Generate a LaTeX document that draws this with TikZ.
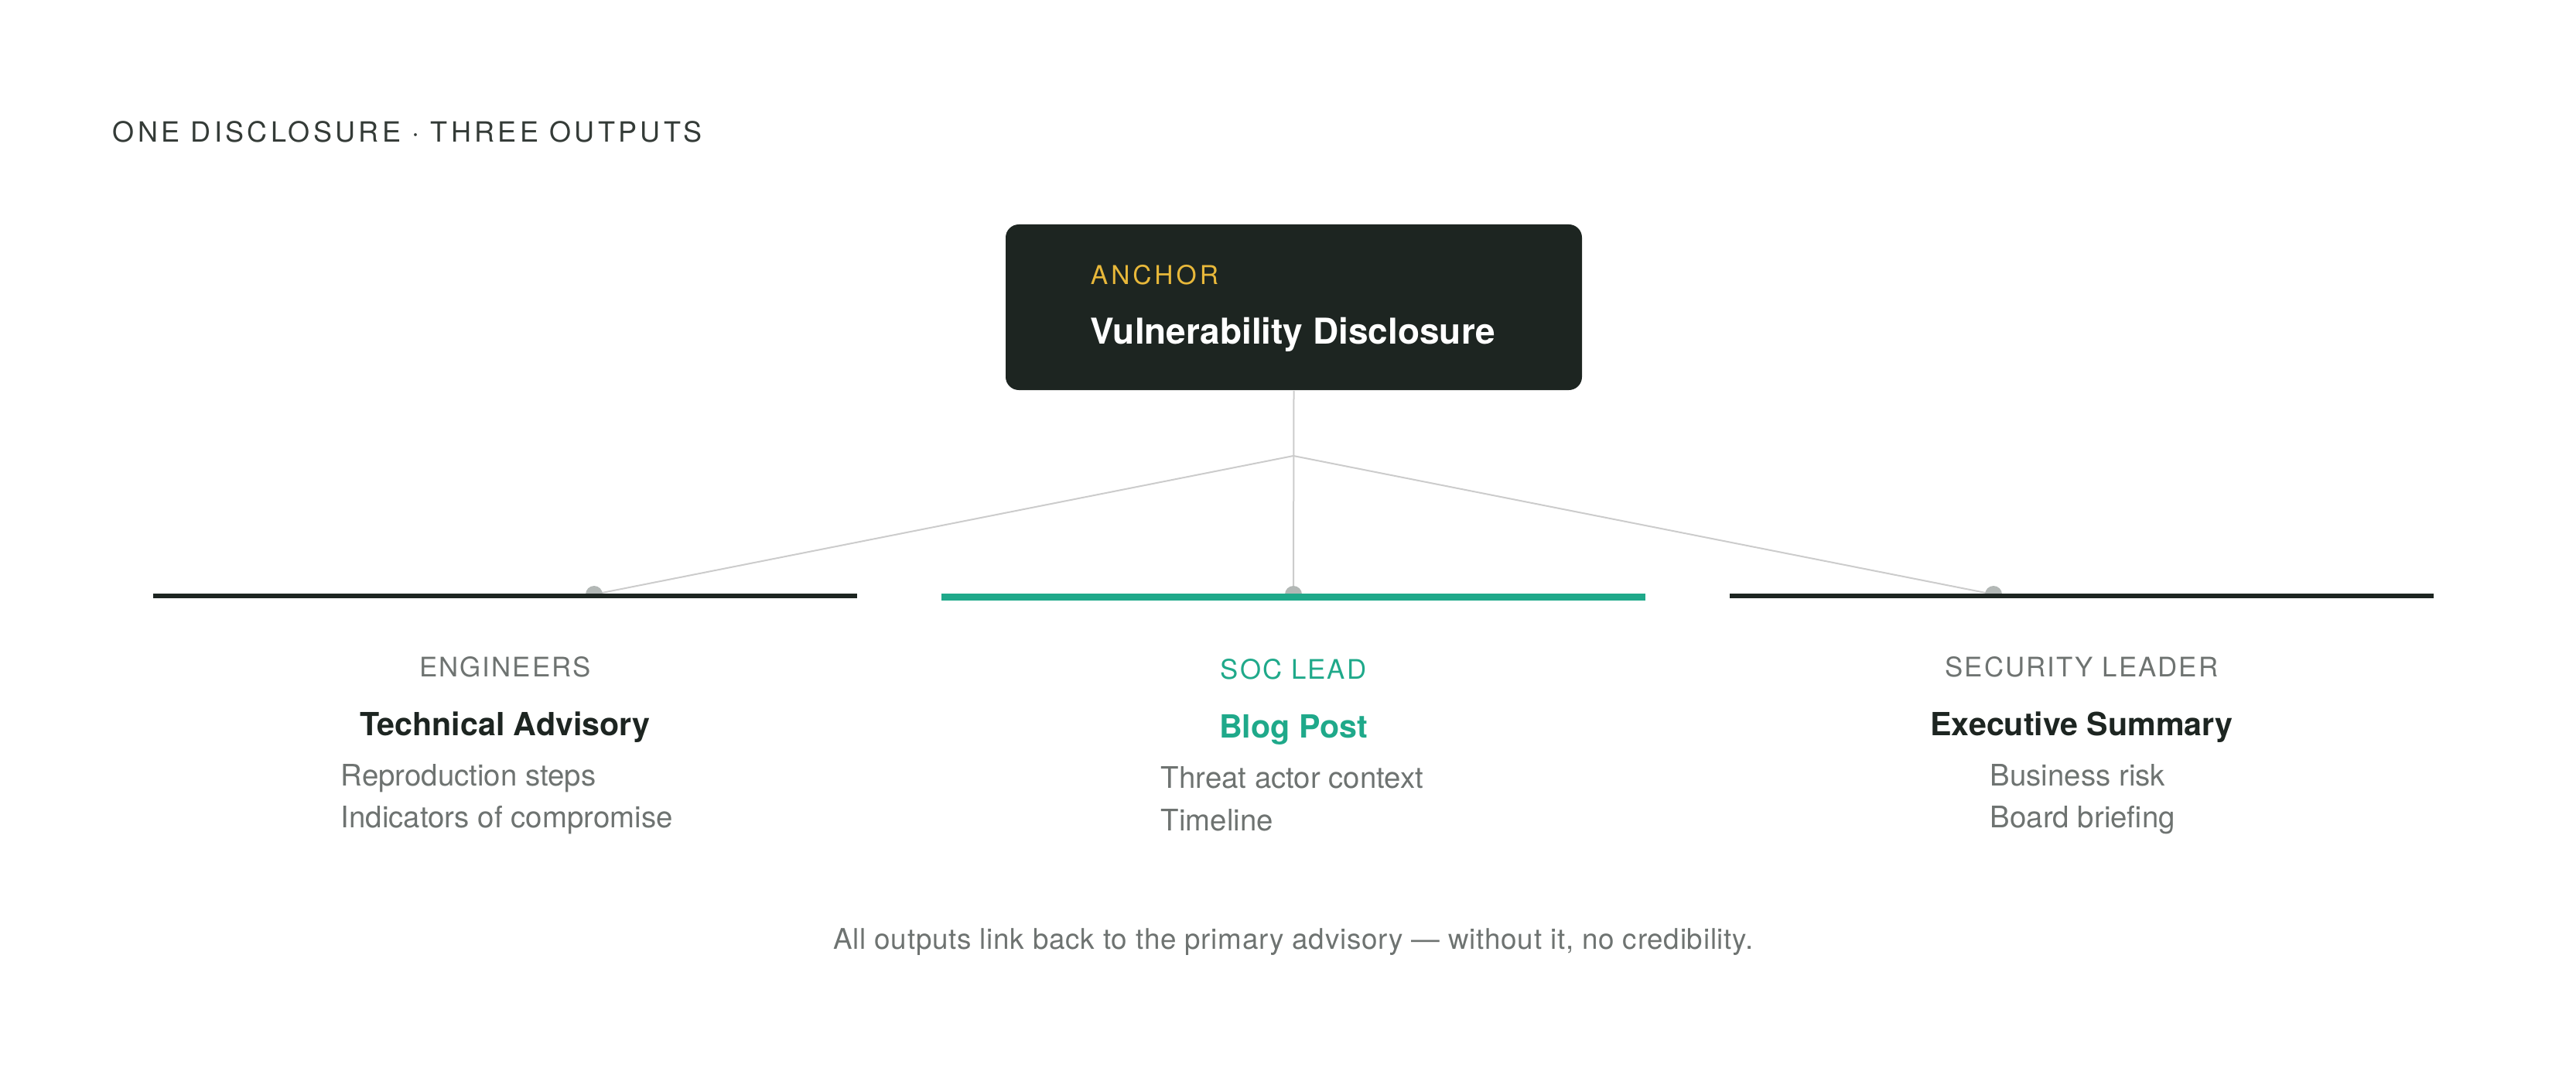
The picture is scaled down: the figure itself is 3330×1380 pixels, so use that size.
\documentclass[tikz,border=0pt]{standalone}
\usepackage{fontspec}
\setmainfont{TeX Gyre Heros}
\newfontfamily\widefont[LetterSpace=12]{TeX Gyre Heros}
\newfontfamily\capsfont[LetterSpace=6]{TeX Gyre Heros}
\newfontfamily\notefont[LetterSpace=2]{TeX Gyre Heros}
\usepackage{tikz}

\definecolor{ink}{HTML}{1D2521}
\definecolor{socgreen}{HTML}{1FA98A}
\definecolor{gold}{HTML}{E8B83A}
\definecolor{mute}{HTML}{6E7371}
\definecolor{wire}{HTML}{CCCCCC}
\definecolor{knob}{HTML}{B3B8B6}

\tikzset{
	txt/.style = {inner sep = 0pt},
	rolefont/.style = {font = \capsfont\fontsize{8.7}{10}\selectfont},
	docfont/.style = {font = \bfseries\fontsize{10.3}{12}\selectfont},
	itemfont/.style = {font = \fontsize{9.6}{11}\selectfont, text = mute}
}

\begin{document}
\begin{tikzpicture}[x = 0.25pt, y = -0.25pt]
		\useasboundingbox (0, 0) rectangle (3330, 1380);
		\node[txt, anchor = base west, font = \widefont\fontsize{9}{11}\selectfont, text = ink!90] (title) at (145, 184) {ONE DISCLOSURE · THREE OUTPUTS};
		% anchor box
		\node[fill = ink, rounded corners = 4.25pt, minimum width = 186.25pt, minimum height = 53.5pt, inner sep = 0pt] (disclosure) at (1672.5, 397) {};
			\node[txt, anchor = base west, font = \widefont\fontsize{8.4}{10}\selectfont, text = gold] (tag) at (1409, 368) {ANCHOR};
			\node[txt, anchor = base west, font = \bfseries\fontsize{11.5}{14}\selectfont, text = white] (headline) at (1409, 444) {Vulnerability Disclosure};
		% connectors
		\coordinate (split) at (1672, 589);
		\foreach \x/\n in {768/eng, 1672/soc, 2577/sec}
			\coordinate (dot\n) at (\x, 768);
		\draw[wire, line width = 0.5pt] (disclosure.south) -- (dotsoc);
		\draw[wire, line width = 0.5pt] (split) -- (doteng);
		\draw[wire, line width = 0.5pt] (split) -- (dotsec);
		\foreach \n in {eng, soc, sec}
			\fill[knob] (dot\n) ++(-11, 0) arc[start angle = 180, end angle = 360, radius = 11] -- cycle;
		% outer columns
		\foreach \cx/\lx/\n/\role/\doc/\one/\two in {653/440/eng/ENGINEERS/Technical Advisory/Reproduction steps/Indicators of compromise, 2691/2572/sec/SECURITY LEADER/Executive Summary/Business risk/Board briefing}
		{
			\draw[ink, line width = 1.5pt] (\cx - 455, 770) -- (\cx + 455, 770);
			\node[txt, rolefont, anchor = base, text = mute] (role\n) at (\cx, 874) {\role};
			\node[txt, docfont, anchor = base, text = ink] (doc\n) at (\cx, 950) {\doc};
			\node[txt, itemfont, anchor = base west] (one\n) at (\lx, 1015) {\one};
			\node[txt, itemfont, anchor = base west] (two\n) at (\lx, 1069) {\two};
		}
		% middle column
		\draw[socgreen, line width = 2.25pt] (1217, 771.5) -- (2127, 771.5);
		\node[txt, rolefont, anchor = base, text = socgreen] (rolesoc) at (1672, 877) {SOC LEAD};
		\node[txt, docfont, anchor = base, text = socgreen] (docsoc) at (1672, 953) {Blog Post};
		\node[txt, itemfont, anchor = base west] (onesoc) at (1500, 1018) {Threat actor context};
		\node[txt, itemfont, anchor = base west] (twosoc) at (1500, 1073) {Timeline};
		\node[txt, anchor = base, font = \notefont\fontsize{9.2}{11}\selectfont, text = mute] (note) at (1672, 1226) {All outputs link back to the primary advisory — without it, no credibility.};
	\end{tikzpicture}
\end{document}
